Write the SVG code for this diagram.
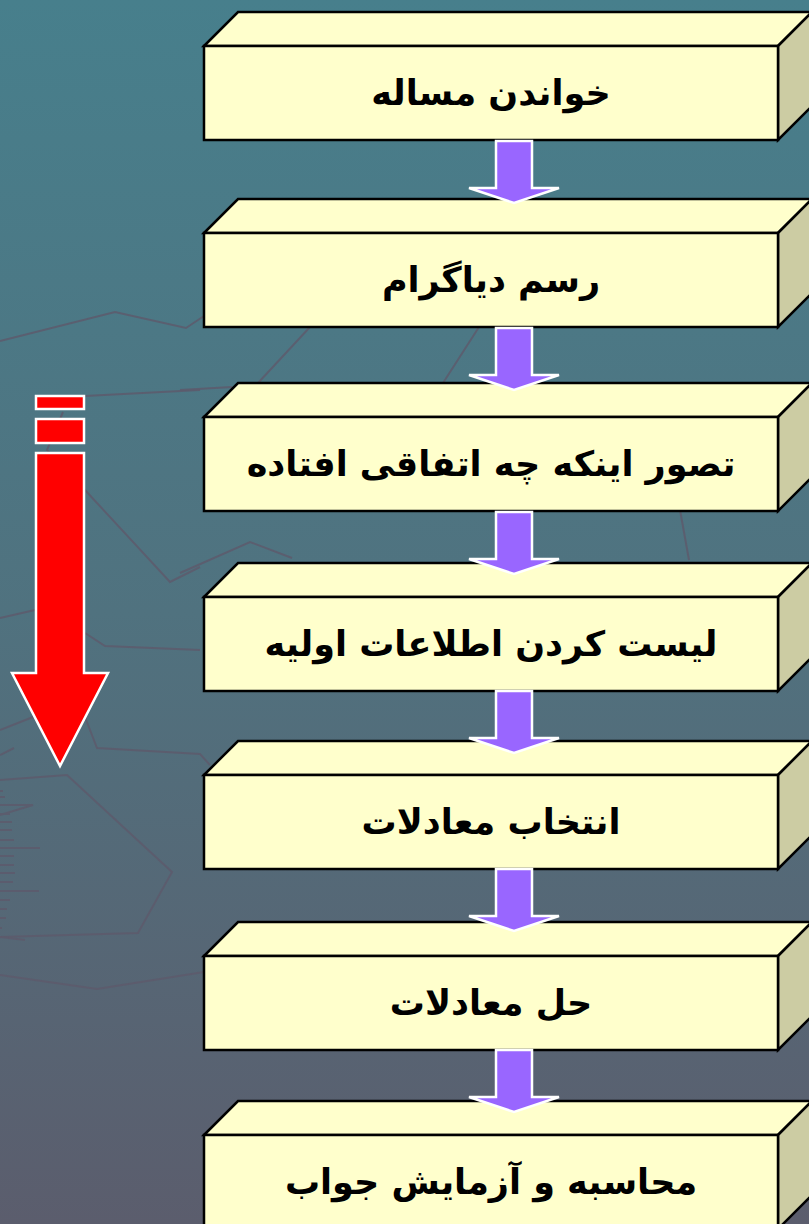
<svg xmlns="http://www.w3.org/2000/svg" xmlns:xlink="http://www.w3.org/1999/xlink" width="809" height="1224" viewBox="0 0 809 1224">
  <defs>
    <linearGradient id="bg" x1="0" y1="0" x2="0" y2="1">
      <stop offset="0" stop-color="#477f8c"/>
      <stop offset="0.5" stop-color="#50727f"/>
      <stop offset="1" stop-color="#5b5d6d"/>
    </linearGradient>
    <g id="box">
      <path class="top" d="M0,0 L34,-34 H608 L574,0 Z"/>
      <path class="side" d="M574,0 L608,-34 V60 L574,94 Z"/>
      <rect class="front" x="0" y="0" width="574" height="94"/>
    </g>
    <path id="arrow" class="flow" d="M-18,0 H18 V47 H45 L0,62 L-45,47 H-18 Z"/>
  </defs>
  <style>
    .top, .front { fill: #ffffcc; stroke: #000; stroke-width: 2.5; stroke-linejoin: miter; }
    .side { fill: #cccca3; stroke: #000; stroke-width: 2.5; }
    .flow { fill: #9966ff; stroke: #ffffff; stroke-width: 2.5; }
    .lbl { font-family: "DejaVu Sans", sans-serif; font-weight: bold; font-size: 35px; fill: #000; text-anchor: middle; }
    .bgl { fill: none; stroke: #5d5b6c; stroke-width: 2; opacity: 0.85; }
    .red { fill: #ff0000; stroke: #ffffff; stroke-width: 2.5; }
  </style>

  <rect x="0" y="0" width="809" height="1224" fill="url(#bg)"/>

  <g id="background-lines">
    <polyline class="bgl" points="0,341 115,312 186,328 204,316"/>
    <polyline class="bgl" points="85,396 200,390"/>
    <polyline class="bgl" points="63,412 47,450 85,490 170,582 200,567"/>
    <polyline class="bgl" points="0,618 35,610"/>
    <polyline class="bgl" points="85,633 105,646 200,650"/>
    <polyline class="bgl" points="0,730 33,717"/>
    <polyline class="bgl" points="85,717 97,748 200,754 210,765"/>
    <polyline class="bgl" points="0,780 67,775 172,872 138,933 0,937"/>
    <polyline class="bgl" points="0,937 25,940"/>
    <polyline class="bgl" points="0,975 97,989 204,972"/>
    <polyline class="bgl" points="0,755 14,748"/>
    <polyline class="bgl" points="310,327 258,383"/>
    <polyline class="bgl" points="180,390 232,387"/>
    <polyline class="bgl" points="479,327 443,383"/>
    <polyline class="bgl" points="680,510 689,560"/>
    <polyline class="bgl" points="180,573 250,542 292,558"/>
    <path class="bgl" d="M0,791 H3 M0,797 H5 M0,805 H33 L0,815 M0,814 H10 M0,822 H12 M0,830 H12 M0,840 H14 M0,848 H40 M0,856 H14 M0,865 H14 M0,873 H15 M0,882 H13 M0,891 H39 M0,900 H10 M0,909 H7 M0,918 H6 M0,928 H2"/>
  </g>

  <g id="progress-arrow">
    <rect class="red" x="36" y="396" width="48" height="13"/>
    <rect class="red" x="36" y="419" width="48" height="24"/>
    <path class="red" d="M36,453 H84 V673 H108 L60,766 L12,673 H36 Z"/>
  </g>

  <g id="n1"><use href="#box" x="204" y="46"/><text class="lbl" x="491" y="105">خواندن مساله</text></g>
  <g id="n2"><use href="#box" x="204" y="233"/><text class="lbl" x="491" y="292">رسم دیاگرام</text></g>
  <g id="n3"><use href="#box" x="204" y="417"/><text class="lbl" x="491" y="476">تصور اینکه چه اتفاقی افتاده</text></g>
  <g id="n4"><use href="#box" x="204" y="597"/><text class="lbl" x="491" y="656">لیست کردن اطلاعات اولیه</text></g>
  <g id="n5"><use href="#box" x="204" y="775"/><text class="lbl" x="491" y="834">انتخاب معادلات</text></g>
  <g id="n6"><use href="#box" x="204" y="956"/><text class="lbl" x="491" y="1015">حل معادلات</text></g>
  <g id="n7"><use href="#box" x="204" y="1135"/><text class="lbl" x="491" y="1194">محاسبه و آزمایش جواب</text></g>

  <g id="connectors">
    <use href="#arrow" x="514" y="141"/>
    <use href="#arrow" x="514" y="328"/>
    <use href="#arrow" x="514" y="512"/>
    <use href="#arrow" x="514" y="691"/>
    <use href="#arrow" x="514" y="869"/>
    <use href="#arrow" x="514" y="1050"/>
  </g>
</svg>
